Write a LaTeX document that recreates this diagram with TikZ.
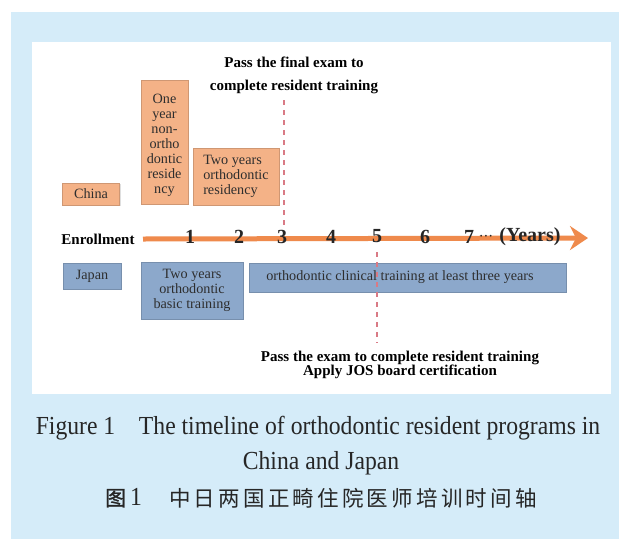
\documentclass[tikz,border=0pt]{standalone}
\usepackage{fontspec}
\setmainfont{Liberation Serif}
\newfontfamily\cjkfont[LetterSpace=15]{Noto Sans CJK SC}
\newfontfamily\cjkbold[FakeBold=1.5]{Noto Sans CJK SC}
\usetikzlibrary{arrows.meta,shadows}
\definecolor{bgblue}{HTML}{D5ECF9}
\definecolor{orangebox}{HTML}{F4B287}
\definecolor{bluebox}{HTML}{8CA8CB}
\definecolor{arroworange}{HTML}{EF8A4C}
\definecolor{dashred}{HTML}{D97A85}
\definecolor{boxtext}{HTML}{2E2E2E}
\tikzset{
  boxfont/.style={font=\fontsize{14.2}{15}\selectfont},
  cnbox/.style={fill=orangebox, draw=orangebox!85!black, line width=0.3pt, inner sep=0pt,
    text=boxtext, boxfont, align=center,
    drop shadow={opacity=0.25, shadow xshift=1pt, shadow yshift=-1pt}},
  jpbox/.style={fill=bluebox, draw=bluebox!85!black, line width=0.3pt, inner sep=0pt,
    text=boxtext, boxfont, align=center,
    drop shadow={opacity=0.25, shadow xshift=1pt, shadow yshift=-1pt}},
  hdr/.style={font=\bfseries\fontsize{15}{14.5}\selectfont, text=black, align=center, inner sep=0pt},
  yearnum/.style={font=\bfseries\fontsize{20}{20}\selectfont, text=black!85, inner sep=0pt},
  examline/.style={dashred, line width=1.8pt, dash pattern=on 5pt off 5pt},
  captxt/.style={font=\fontsize{26}{26}\selectfont, text=black!85, inner sep=0pt}
}
\begin{document}
\begin{tikzpicture}[x=1pt,y=-1pt]
\useasboundingbox (0,0) rectangle (619,539);
% panels
\fill[bgblue] (11,12) rectangle (619,539);
\fill[white] (32,42) rectangle (611,394);

% headers
\node[hdr] (hdrA) at (294,62) {Pass the final exam to};
\node[hdr] (hdrB) at (294,87) {complete resident training};

% China boxes
\node[cnbox, minimum width=57pt, minimum height=22pt] (china) at (91,194) {China};
\node[cnbox, minimum width=47pt, minimum height=124pt] (oneyear) at (164.5,142)
  {\rule{0pt}{17pt}One\\year\\non-\\ortho\\dontic\\reside\\ncy};
\node[cnbox, minimum width=86pt, minimum height=57pt, align=left] (tworesid) at (236,176.5)
  {Two years\\orthodontic\\residency};

% timeline
\node[hdr] (enroll) at (98,239) {Enrollment};
\coordinate (tlstart) at (143,239);
\coordinate (tltip) at (588,238);
\draw[arroworange, line width=5pt, -{Stealth[length=18pt,width=24pt,inset=6pt]}] (tlstart) -- (tltip);

% dashed exam lines
\coordinate (exA1) at (284,100);
\coordinate (exA2) at (284,226);
\draw[examline] (exA1) -- (exA2);
\coordinate (exB1) at (377,252);
\coordinate (exB2) at (377,343);

% Japan boxes
\node[jpbox, minimum width=58pt, minimum height=26pt] (japan) at (92,276) {Japan};
\node[jpbox, minimum width=102pt, minimum height=57pt] (basic) at (192,290.5)
  {Two years\\orthodontic\\basic training};
\node[jpbox, minimum width=317pt, minimum height=29pt] (clinical) at (407.5,277.5) {};
\node[boxfont, text=boxtext, inner sep=0pt] (clinicaltxt) at (400,277.5)
  {orthodontic clinical training at least three years};
\draw[examline] (exB1) -- (exB2);

% year numbers
\node[yearnum] (y1) at (190,236.5) {1};
\node[yearnum] (y2) at (239,236.5) {2};
\node[yearnum] (y3) at (282,236.5) {3};
\node[yearnum] (y4) at (331,236.5) {4};
\node[yearnum] (y5) at (377,236.5) {5};
\node[yearnum] (y6) at (425,236.5) {6};
\node[yearnum] (y7) at (469,236.5) {7};
\node[yearnum, font=\bfseries\fontsize{16}{16}\selectfont] (ydots) at (486,237) {$\cdotp\!\cdotp\!\cdotp$};
\node[yearnum] (years) at (530,236.5) {(Years)};

% bottom exam text
\node[hdr] (hdrC) at (400,365)
  {Pass the exam to complete resident training\\Apply JOS board certification};

% caption
\node[captxt] (cap1) at (318,428) {\scalebox{0.91}[1]{Figure 1\hspace{1em}The timeline of orthodontic resident programs in}};
\node[captxt] (cap2) at (321,463) {\scalebox{0.91}[1]{China and Japan}};
\node[inner sep=0pt, text=black!85, anchor=west] (cap3a) at (105,498)
  {{\cjkbold\fontsize{21}{21}\selectfont 图}{\fontsize{26}{26}\selectfont\scalebox{0.91}[1]{\,1}}};
\node[inner sep=0pt, text=black!85, anchor=west] (cap3b) at (169,498)
  {\cjkfont\fontsize{21.5}{21.5}\selectfont 中日两国正畸住院医师培训时间轴};
\end{tikzpicture}
\end{document}
